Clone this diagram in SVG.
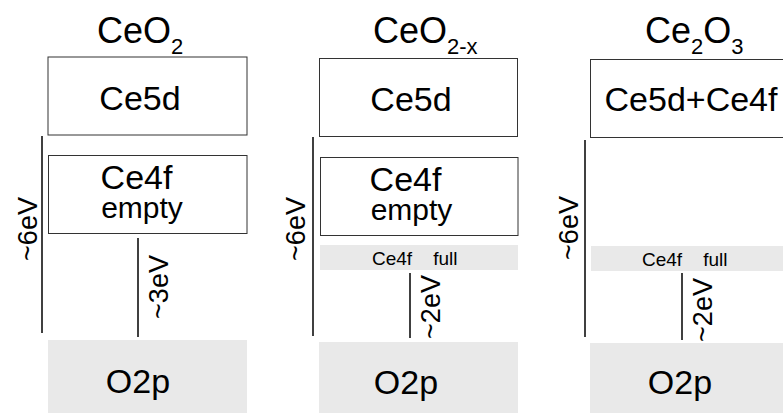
<svg xmlns="http://www.w3.org/2000/svg" width="783" height="415" viewBox="0 0 783 415">
<style>
text{font-family:"Liberation Sans",Arial,sans-serif;fill:#000}
.box{fill:#fff;stroke:#333;stroke-width:1}
.band{fill:#e9e9e9;stroke:none}
.ln{stroke:#000;stroke-width:1.5;fill:none}
.big{font-size:34px;text-anchor:middle}
.f4{font-size:34px;text-anchor:middle}
.mt{font-size:30px;text-anchor:middle}
.sm{font-size:19px;white-space:pre}
.ev{font-size:27px;text-anchor:middle}
.ttl{font-size:36px}
.sub{font-size:22px}
</style>
<rect width="783" height="415" fill="#fff"/>
<g id="connectors">
<line class="ln" x1="42" y1="136" x2="42" y2="333"/>
<line class="ln" x1="138" y1="238" x2="138" y2="337"/>
<line class="ln" x1="313" y1="137" x2="313" y2="336"/>
<line class="ln" x1="410" y1="273" x2="410" y2="338"/>
<line class="ln" x1="585" y1="140" x2="585" y2="337"/>
<line class="ln" x1="682" y1="273" x2="682" y2="340"/>
<text class="ev" transform="translate(37,229) rotate(-90)">~6eV</text>
<text class="ev" transform="translate(168,287) rotate(-90)">~3eV</text>
<text class="ev" transform="translate(305,229) rotate(-90)">~6eV</text>
<text class="ev" transform="translate(440,307) rotate(-90)">~2eV</text>
<text class="ev" transform="translate(578,228) rotate(-90)">~6eV</text>
<text class="ev" transform="translate(712,310) rotate(-90)">~2eV</text>
</g>
<g id="title1"><text class="ttl" x="97" y="43">CeO<tspan class="sub" dy="11">2</tspan></text></g>
<g id="title2"><text class="ttl" x="373" y="43">CeO<tspan class="sub" dy="11">2-x</tspan></text></g>
<g id="title3"><text class="ttl" x="645" y="43">Ce<tspan class="sub" dy="11">2</tspan><tspan dy="-11">O</tspan><tspan class="sub" dy="11">3</tspan></text></g>
<g id="p1-ce5d"><rect class="box" x="48" y="57" width="199" height="78"/><text class="big" x="140" y="110">Ce5d</text></g>
<g id="p1-ce4f"><rect class="box" x="48.5" y="155.5" width="198.5" height="78"/><text class="f4" x="136.5" y="189">Ce4f</text><text class="mt" x="142" y="218">empty</text></g>
<g id="p1-o2p"><rect class="band" x="48" y="340" width="199" height="73"/><text class="big" x="138" y="393">O2p</text></g>
<g id="p2-ce5d"><rect class="box" x="319.5" y="58.5" width="198" height="78"/><text class="big" x="411" y="111">Ce5d</text></g>
<g id="p2-ce4f"><rect class="box" x="320.5" y="157.5" width="197.5" height="78"/><text class="f4" x="405.5" y="191">Ce4f</text><text class="mt" x="411.5" y="220">empty</text></g>
<g id="p2-ce4f-full"><rect class="band" x="320" y="245" width="198" height="25"/><text class="sm" x="372" y="265">Ce4f    full</text></g>
<g id="p2-o2p"><rect class="band" x="319" y="342" width="199" height="71"/><text class="big" x="406" y="394">O2p</text></g>
<g id="p3-ce5d-ce4f"><rect class="box" x="590.5" y="59.5" width="200" height="78"/><text class="big" x="691" y="111">Ce5d+Ce4f</text></g>
<g id="p3-ce4f-full"><rect class="band" x="591" y="246" width="192" height="25"/><text class="sm" x="642" y="266">Ce4f    full</text></g>
<g id="p3-o2p"><rect class="band" x="590" y="343" width="193" height="70"/><text class="big" x="680" y="394">O2p</text></g>
</svg>
